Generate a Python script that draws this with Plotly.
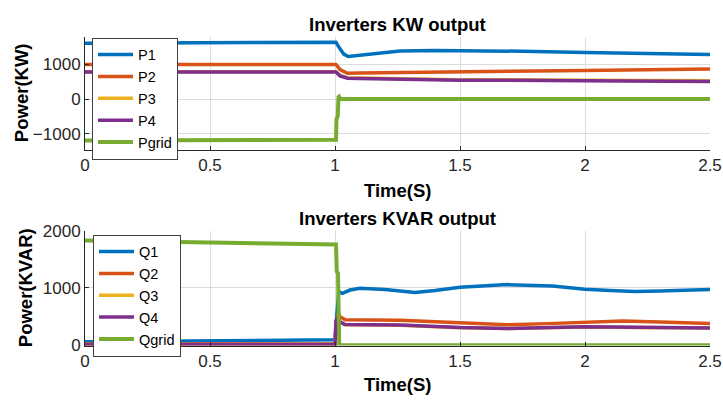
import plotly.graph_objects as go

# ---------------- data ----------------
t_p1 = [0, 0.5, 1.0, 1.004, 1.02, 1.035, 1.053, 1.08, 1.15, 1.26, 1.4, 1.5, 1.75, 2.0, 2.25, 2.5]
p1 = [1615, 1620, 1625, 1640, 1450, 1300, 1230, 1250, 1320, 1385, 1405, 1405, 1380, 1345, 1315, 1290]

t_p2 = [0, 1.0, 1.004, 1.02, 1.05, 1.1, 1.26, 1.5, 2.0, 2.5]
p2 = [1000, 1000, 1000, 850, 745, 750, 760, 785, 825, 870]

t_p3 = [0, 1.0, 1.004, 1.02, 1.05, 1.1, 1.26, 1.5, 2.0, 2.5]
p3 = [790, 790, 790, 680, 615, 605, 590, 560, 545, 528]

t_p4 = [0, 1.0, 1.004, 1.02, 1.05, 1.1, 1.26, 1.5, 2.0, 2.5]
p4 = [780, 780, 780, 670, 602, 592, 574, 546, 528, 509]

t_pg = [0, 1.0, 1.004, 1.006, 1.011, 1.014, 1.016, 1.02, 2.5]
pgrid = [-1200, -1195, -1180, -580, -500, 60, 70, 0, 0]

t_q1 = [0, 0.5, 1.0, 1.004, 1.01, 1.015, 1.03, 1.06, 1.1, 1.2, 1.32, 1.4, 1.5, 1.6,
        1.69, 1.87, 2.0, 2.1, 2.2, 2.3, 2.4, 2.5]
q1 = [50, 65, 85, 350, 700, 930, 900, 960, 990, 970, 915, 950, 1010, 1040,
      1055, 1030, 972, 950, 933, 945, 960, 970]

t_q2 = [0, 1.0, 1.005, 1.012, 1.02, 1.04, 1.26, 1.5, 1.69, 1.85, 2.0, 2.15, 2.3, 2.5]
q2 = [10, 10, 250, 560, 490, 440, 430, 385, 350, 370, 390, 415, 400, 370]

t_q3 = [0, 1.0, 1.004, 1.012, 1.02, 1.04, 1.26, 1.5, 1.69, 2.0, 2.2, 2.5]
q3 = [5, 5, 400, 460, 395, 350, 340, 298, 283, 312, 303, 292]

t_q4 = [0, 1.0, 1.004, 1.012, 1.02, 1.04, 1.26, 1.5, 1.69, 2.0, 2.2, 2.5]
q4 = [5, 5, 420, 470, 400, 355, 345, 300, 285, 315, 305, 295]

t_qg = [0, 0.5, 1.0, 1.004, 1.007, 1.012, 1.017, 2.5]
qgrid = [1830, 1800, 1770, 1760, 1290, 1250, -10, -10]

x_ticks = [0, 0.5, 1, 1.5, 2, 2.5]
x_ticklabels = ["0", "0.5", "1", "1.5", "2", "2.5"]
y1_ticks = [-1000, 0, 1000]
y2_ticks = [0, 1000, 2000]

colors = ["#0072BD", "#D95319", "#EDB120", "#7E2F8E", "#77AC30"]

# ---------------- figure ----------------
W, H = 723, 410
L, R = 85, 13
FONT = "Liberation Sans, Arial, sans-serif"
TXT = "#262626"

fig = go.Figure()

top = [("P1", t_p1, p1), ("P2", t_p2, p2), ("P3", t_p3, p3), ("P4", t_p4, p4), ("Pgrid", t_pg, pgrid)]
bot = [("Q1", t_q1, q1), ("Q2", t_q2, q2), ("Q3", t_q3, q3), ("Q4", t_q4, q4), ("Qgrid", t_qg, qgrid)]

for i, (name, tt, vv) in enumerate(top):
    fig.add_trace(go.Scatter(x=tt, y=vv, name=name, mode="lines",
                             line=dict(color=colors[i], width=4 if i == 4 else 3.5),
                             xaxis="x", yaxis="y", legend="legend"))
for i, (name, tt, vv) in enumerate(bot):
    fig.add_trace(go.Scatter(x=tt, y=vv, name=name, mode="lines",
                             line=dict(color=colors[i], width=4 if i == 4 else 3.5),
                             xaxis="x2", yaxis="y2", legend="legend2"))

def ypaper(px):
    return 1 - px / H

def xpaper(px):
    return (px - L) / (W - L - R)

axis_common = dict(showline=True, linecolor=TXT, linewidth=1, mirror=False,
                   showgrid=True, gridcolor="#dcdcdc", gridwidth=1,
                   ticks="inside", ticklen=4, tickcolor=TXT, zeroline=False,
                   tickfont=dict(family=FONT, size=17, color=TXT))

fig.update_layout(
    width=W, height=H,
    margin=dict(l=L, r=R, t=0, b=0),
    paper_bgcolor="white", plot_bgcolor="white",
    showlegend=True,
    xaxis=dict(domain=[0, 1], anchor="y", range=[0, 2.5], tickvals=x_ticks,
               ticktext=x_ticklabels, **axis_common),
    yaxis=dict(domain=[ypaper(147), ypaper(29)], anchor="x", range=[-1460, 1800],
               tickvals=y1_ticks, **axis_common),
    xaxis2=dict(domain=[0, 1], anchor="y2", range=[0, 2.5], tickvals=x_ticks,
                ticktext=x_ticklabels, **axis_common),
    yaxis2=dict(domain=[ypaper(352), ypaper(232)], anchor="x2", range=[-15, 2000],
                tickvals=y2_ticks, **axis_common),
    legend=dict(x=xpaper(92), y=ypaper(30), xanchor="left", yanchor="top",
                bgcolor="white", bordercolor="#404040", borderwidth=1,
                font=dict(family=FONT, size=14.5, color="black"), itemwidth=35),
    legend2=dict(x=xpaper(93), y=ypaper(236), xanchor="left", yanchor="top",
                 bgcolor="white", bordercolor="#404040", borderwidth=1,
                 font=dict(family=FONT, size=14.5, color="black"), itemwidth=35),
)

bold = dict(family=FONT, size=18.5, color="black")
ann = [
    dict(text="<b>Inverters KW output</b>", x=0.5, y=ypaper(16)),
    dict(text="<b>Inverters KVAR output</b>", x=0.5, y=ypaper(219)),
    dict(text="<b>Time(S)</b>", x=0.5, y=ypaper(190)),
    dict(text="<b>Time(S)</b>", x=0.5, y=ypaper(393)),
    dict(text="<b>Power(KW)</b>", x=xpaper(21), y=ypaper(88), textangle=-90),
    dict(text="<b>Power(KVAR)</b>", x=xpaper(25), y=ypaper(292), textangle=-90),
]
for a in ann:
    fig.add_annotation(xref="paper", yref="paper", showarrow=False,
                       xanchor="center", yanchor="middle", font=bold, **a)

fig.write_html("out.html")
